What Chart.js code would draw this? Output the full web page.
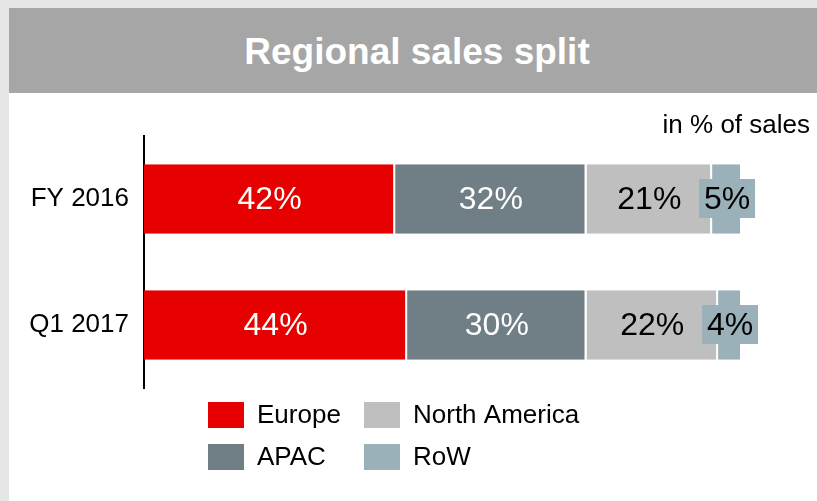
<!DOCTYPE html>
<html>
<head>
<meta charset="utf-8">
<script src="https://cdn.jsdelivr.net/npm/chart.js@4"></script>
<style>
  html, body { margin: 0; padding: 0; }
  body { width: 817px; height: 501px; background: #e6e6e6; position: relative; overflow: hidden;
         font-family: "Liberation Sans", Arial, sans-serif; }
  #header { position: absolute; left: 9px; top: 8px; width: 808px; height: 85px; background: #a6a6a6; }
  #header h1 { margin: 0; position: absolute; left: 0; right: 0; top: 23px; text-align: center;
               color: #fff; font-size: 37px; font-weight: bold; line-height: 42px; padding-left: 8px; }
  #panel { position: absolute; left: 9px; top: 93px; width: 808px; height: 408px; background: #fff; }
  #unit { position: absolute; right: 7px; top: 16px; font-size: 26px; color: #000; line-height: 30px; }
  #wrap { position: absolute; left: 0; top: 0; width: 808px; height: 408px; }
</style>
</head>
<body>
<div id="header"><h1>Regional sales split</h1></div>
<div id="panel">
  <div id="wrap"><canvas id="salesChart"></canvas></div>
  <div id="unit">in % of sales</div>
</div>
<script>
// Datos (en % de ventas)
const categories = ['FY 2016', 'Q1 2017'];
const regions = ['Europe', 'APAC', 'North America', 'RoW'];
const europe = [42, 44];
const apac = [32, 30];
const northAmerica = [21, 22];
const restOfWorld = [5, 4];

const colores = ['#e60000', '#707e85', '#bfbfbf', '#9bb1ba'];
const coloresTexto = ['#fff', '#fff', '#000', '#000'];

// Etiquetas de valor dentro de cada segmento
const etiquetasPlugin = {
    id: 'etiquetas',
    afterDatasetsDraw(chart) {
        const ctx = chart.ctx;
        ctx.save();
        ctx.font = '32px "Liberation Sans", Arial, sans-serif';
        ctx.textAlign = 'center';
        ctx.textBaseline = 'middle';
        chart.data.datasets.forEach((ds, i) => {
            const meta = chart.getDatasetMeta(i);
            meta.data.forEach((bar, j) => {
                const cx = (bar.x + bar.base) / 2;
                const cy = bar.y;
                const texto = ds.data[j] + '%';
                if (i === chart.data.datasets.length - 1) {
                    // la caja de RoW es mas ancha que la barra
                    ctx.fillStyle = ds.backgroundColor;
                    ctx.fillRect(cx - 28, cy - 20, 56, 39);
                }
                ctx.fillStyle = coloresTexto[i];
                ctx.fillText(texto, cx, cy + 1);
            });
        });
        ctx.restore();
    }
};

// Leyenda en dos columnas (Europe/APAC, North America/RoW)
const leyendaPlugin = {
    id: 'leyenda',
    afterDraw(chart) {
        const ctx = chart.ctx;
        ctx.save();
        ctx.font = '26px "Liberation Sans", Arial, sans-serif';
        ctx.textBaseline = 'middle';
        ctx.textAlign = 'left';
        chart.data.datasets.forEach((ds, i) => {
            const col = Math.floor(i / 2);
            const row = i % 2;
            const x = 199 + col * 156;
            const y = 309 + row * 42;
            ctx.fillStyle = ds.backgroundColor;
            ctx.fillRect(x, y, 36, 26);
            ctx.fillStyle = '#000';
            ctx.fillText(ds.label, x + 49, y + 14);
        });
        ctx.restore();
    }
};

document.addEventListener('DOMContentLoaded', () => {
    const canvas = document.getElementById('salesChart');
    const series = [europe, apac, northAmerica, restOfWorld];

    new Chart(canvas.getContext('2d'), {
        type: 'bar',
        data: {
            labels: categories,
            datasets: regions.map((r, i) => ({
                label: r,
                data: series[i],
                backgroundColor: colores[i],
                borderColor: '#fff',
                borderWidth: { top: 0, right: 2, bottom: 0, left: 0 },
                borderSkipped: false,
                barPercentage: 0.55,
                categoryPercentage: 1.0
            }))
        },
        options: {
            indexAxis: 'y',
            responsive: true,
            maintainAspectRatio: false,
            animation: false,
            layout: { padding: { top: 43, right: 75, bottom: 113, left: 0 } },
            scales: {
                x: { stacked: true, min: 0, max: 100, display: false },
                y: {
                    stacked: true,
                    grid: { display: false, drawTicks: false },
                    border: { display: true, color: '#000', width: 2 },
                    ticks: {
                        color: '#000',
                        padding: 15,
                        font: { size: 26, family: '"Liberation Sans", Arial, sans-serif' }
                    },
                    afterFit: scale => { scale.width = 135; }
                }
            },
            plugins: {
                legend: { display: false },
                tooltip: { enabled: false }
            }
        },
        plugins: [etiquetasPlugin, leyendaPlugin]
    });
});
</script>
</body>
</html>
